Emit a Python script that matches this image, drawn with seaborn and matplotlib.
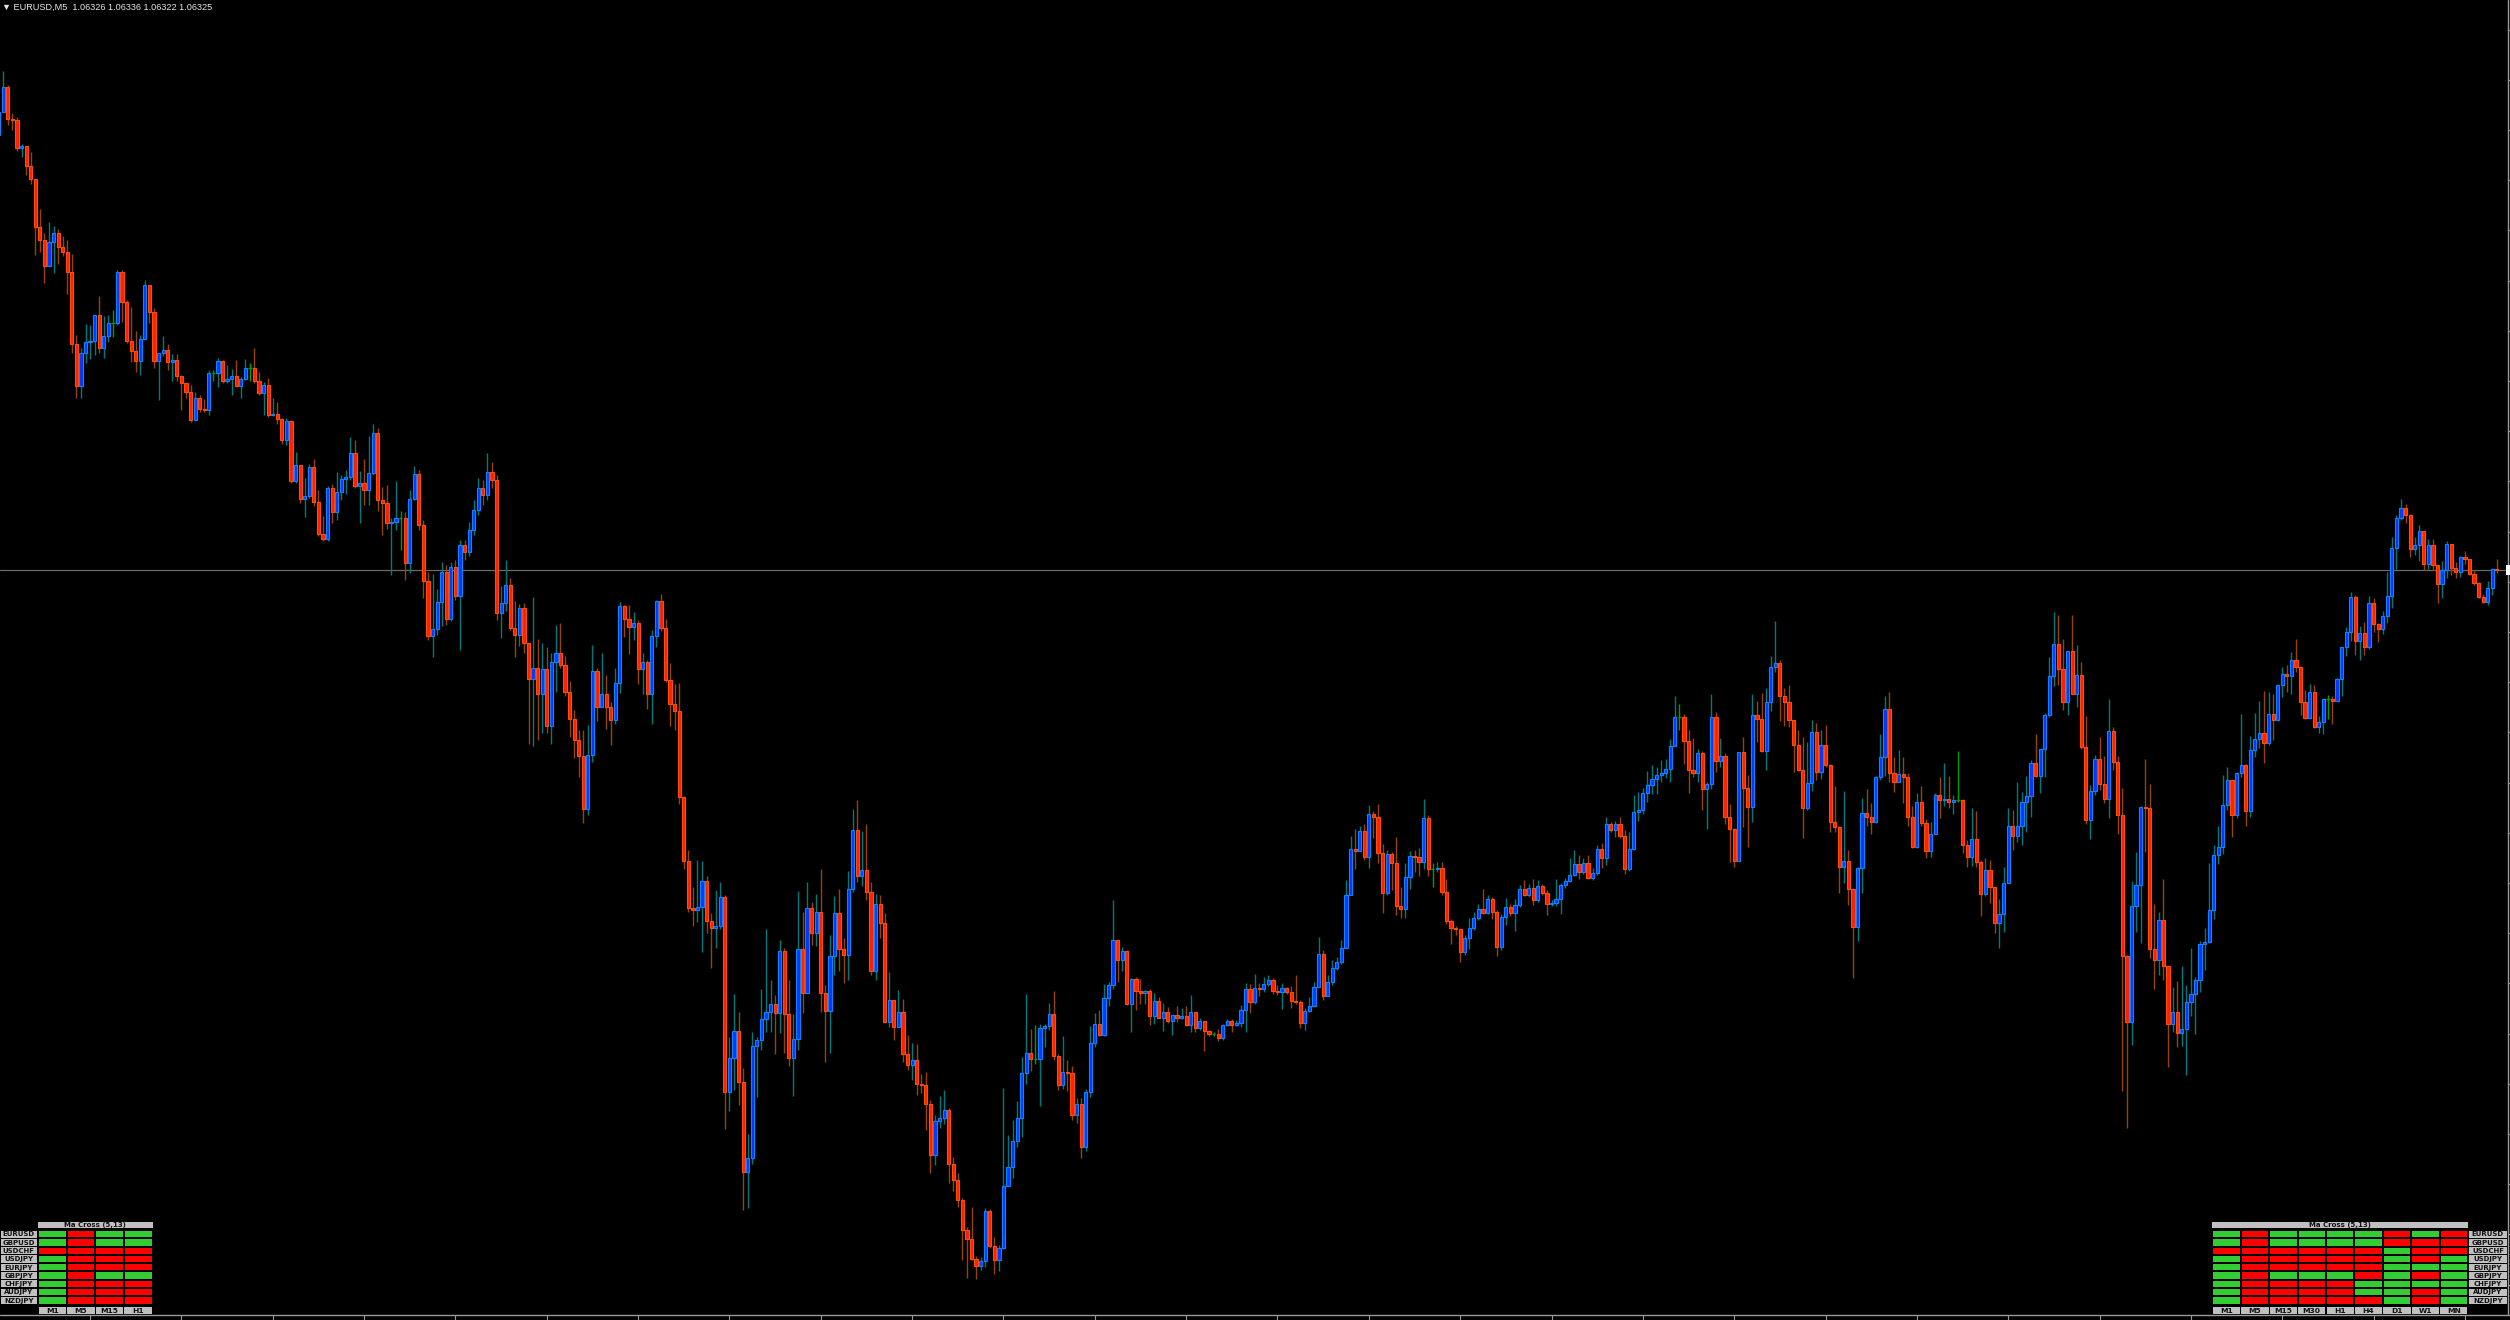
import numpy as np
import pandas as pd
import matplotlib
matplotlib.use("Agg")
import matplotlib.pyplot as plt
import seaborn as sns
from matplotlib.patches import Rectangle
from matplotlib.colors import ListedColormap

# ---------------- data (EURUSD M5, prices = BASE + points / 100000) ----------------
BASE = 1.05
first_open_pts = 1760

close_pts = [
1783,1808,1776,1775,1747,1749,1729,1716,1668,1655,
1629,1653,1662,1648,1643,1623,1551,1509,1542,1553,
1554,1580,1547,1559,1572,1572,1623,1593,1554,1544,
1534,1556,1610,1583,1534,1542,1545,1533,1535,1519,
1512,1503,1475,1497,1486,1485,1522,1522,1534,1514,
1516,1519,1509,1516,1527,1527,1514,1502,1510,1480,
1481,1476,1455,1474,1414,1430,1396,1399,1428,1393,
1361,1356,1407,1383,1403,1416,1418,1442,1409,1412,
1405,1422,1462,1395,1392,1372,1373,1377,1377,1332,
1396,1421,1370,1314,1259,1266,1293,1323,1276,1328,
1299,1350,1343,1365,1385,1407,1400,1423,1415,1282,
1292,1310,1267,1260,1287,1252,1216,1227,1201,1226,
1169,1233,1242,1230,1203,1176,1155,1139,1086,1140,
1224,1188,1201,1188,1175,1212,1289,1276,1268,1272,
1226,1233,1201,1259,1294,1267,1215,1191,1184,1098,
1034,987,985,988,1014,974,967,969,998,803,
837,864,813,723,737,849,855,876,883,891,
882,944,881,837,856,946,902,987,962,983,
902,884,939,982,946,940,1006,1065,1019,1025,
1003,924,991,972,873,895,868,883,841,830,
835,811,810,791,740,774,777,785,731,715,
695,665,656,636,629,634,684,649,635,647,
709,728,754,777,822,842,836,836,867,869,
881,839,810,823,822,780,791,748,803,852,
871,860,897,910,955,935,944,891,916,904,
902,904,879,894,877,883,874,880,877,879,
870,883,867,874,864,861,861,857,870,874,
870,872,885,906,893,907,906,911,915,904,
903,907,903,894,893,872,884,889,908,941,
899,913,927,933,947,1000,1046,1044,1064,1038,
1081,1078,1042,1002,1041,1032,989,986,1018,1039,
1038,1033,1077,1026,1026,1027,1003,974,967,966,
943,957,967,977,986,982,996,983,948,978,
988,982,990,1006,1000,1007,995,1009,1002,991,
992,996,1010,1014,1020,1031,1023,1032,1017,1022,
1046,1037,1071,1065,1071,1059,1026,1046,1083,1085,
1102,1110,1116,1120,1122,1126,1149,1178,1178,1154,
1125,1122,1142,1106,1111,1178,1134,1139,1078,1066,
1034,1143,1107,1088,1180,1176,1144,1193,1228,1232,
1199,1193,1175,1150,1125,1087,1112,1163,1123,1150,
1130,1073,1068,1028,1034,1006,968,1027,1082,1078,
1073,1118,1138,1186,1122,1113,1121,1118,1078,1048,
1093,1072,1044,1061,1100,1095,1096,1093,1095,1095,
1050,1038,1056,1033,1001,1025,1008,972,981,1012,
1069,1059,1069,1093,1099,1132,1119,1146,1180,1219,
1251,1226,1193,1244,1201,1220,1148,1075,1104,1136,
1111,1096,1164,1133,1080,939,873,989,1010,1088,
1087,946,935,975,929,871,883,862,866,893,
901,915,951,953,985,1040,1048,1090,1115,1080,
1122,1130,1084,1145,1156,1162,1152,1181,1175,1210,
1221,1219,1235,1228,1193,1177,1203,1168,1173,1196,
1196,1194,1216,1248,1263,1298,1254,1262,1248,1292,
1271,1266,1279,1299,1347,1377,1387,1380,1346,1350,
1364,1331,1350,1330,1311,1325,1351,1327,1323,1338,
1336,1321,1312,1298,1293,1307,1326,1325]

high_pts = [
1788,1824,1810,1782,1778,1751,1749,1743,1716,1686,
1662,1673,1669,1666,1659,1655,1641,1560,1547,1571,
1570,1580,1599,1579,1580,1585,1625,1625,1595,1588,
1564,1560,1615,1610,1587,1542,1559,1551,1541,1541,
1520,1512,1510,1503,1500,1496,1525,1525,1537,1535,
1530,1526,1535,1518,1536,1532,1547,1523,1513,1517,
1497,1493,1477,1477,1475,1443,1430,1417,1431,1436,
1405,1379,1409,1411,1423,1420,1425,1458,1455,1424,
1436,1459,1471,1467,1408,1410,1377,1414,1384,1383,
1405,1429,1425,1375,1323,1321,1306,1333,1330,1333,
1335,1355,1355,1373,1395,1417,1415,1442,1433,1420,
1309,1335,1317,1294,1291,1292,1252,1298,1256,1252,
1248,1242,1270,1272,1239,1214,1185,1165,1165,1170,
1250,1227,1242,1220,1193,1227,1293,1290,1290,1283,
1275,1242,1235,1265,1295,1301,1276,1232,1211,1212,
1099,1045,1008,1035,1034,1019,982,1005,1013,1000,
858,901,883,827,761,863,858,906,966,915,
900,955,947,915,881,1004,983,1013,993,1001,
1026,910,960,999,1006,957,1024,1086,1095,1064,
1071,1013,1001,1000,982,923,895,905,896,860,
852,851,821,823,795,780,799,805,787,738,
722,697,668,688,639,638,687,686,658,650,
807,760,775,794,838,901,866,870,871,871,
892,904,841,859,835,829,797,797,806,869,
882,885,911,913,995,956,948,945,917,918,
916,905,906,902,898,892,888,880,889,887,
889,900,883,877,867,865,863,866,871,876,
876,875,890,912,911,921,912,918,920,917,
910,912,908,909,920,895,887,898,913,958,
945,920,935,938,955,1015,1059,1066,1069,1071,
1090,1084,1091,1051,1045,1043,1058,1008,1032,1044,
1045,1047,1096,1080,1032,1033,1033,1016,976,969,
966,960,977,983,991,1006,1000,998,985,981,
997,991,996,1010,1015,1011,1016,1015,1011,1005,
995,1016,1012,1017,1037,1045,1040,1037,1040,1027,
1050,1052,1078,1073,1074,1078,1065,1063,1100,1103,
1107,1124,1130,1128,1135,1136,1156,1199,1191,1181,
1165,1157,1146,1144,1113,1201,1183,1157,1142,1091,
1067,1143,1158,1120,1201,1194,1202,1207,1239,1274,
1235,1207,1210,1175,1165,1158,1153,1175,1172,1165,
1170,1131,1109,1069,1104,1045,1006,1028,1097,1106,
1092,1119,1161,1199,1203,1138,1145,1138,1122,1089,
1102,1109,1076,1073,1102,1118,1132,1119,1100,1144,
1096,1055,1087,1084,1035,1037,1035,1008,996,1028,
1087,1085,1113,1103,1119,1135,1161,1146,1182,1238,
1283,1280,1256,1244,1280,1250,1233,1179,1110,1140,
1158,1139,1196,1168,1139,1107,940,1014,1043,1089,
1136,1111,991,983,1016,929,908,914,929,910,
947,918,954,967,1032,1050,1069,1120,1128,1115,
1123,1181,1131,1159,1182,1194,1204,1203,1201,1211,
1228,1230,1243,1256,1228,1205,1211,1210,1179,1196,
1200,1199,1217,1248,1268,1303,1300,1269,1273,1299,
1297,1272,1284,1323,1358,1380,1396,1391,1381,1358,
1370,1363,1356,1356,1327,1334,1354,1351,1333,1339,
1344,1336,1325,1313,1301,1314,1327,1336]

low_pts = [
1757,1783,1770,1765,1744,1738,1720,1711,1640,1643,
1612,1629,1622,1631,1639,1601,1542,1497,1497,1532,
1536,1540,1542,1537,1553,1558,1570,1573,1552,1533,
1523,1520,1556,1572,1527,1495,1539,1525,1514,1514,
1485,1497,1473,1475,1483,1483,1480,1514,1508,1512,
1512,1500,1509,1497,1515,1514,1512,1500,1480,1478,
1479,1471,1451,1450,1412,1412,1392,1378,1397,1389,
1359,1354,1354,1372,1375,1395,1401,1415,1407,1372,
1390,1390,1420,1384,1360,1366,1320,1365,1345,1315,
1322,1395,1365,1297,1255,1238,1260,1269,1270,1274,
1295,1245,1335,1339,1360,1380,1390,1395,1407,1275,
1257,1284,1265,1238,1249,1242,1151,1149,1155,1162,
1162,1151,1203,1227,1199,1158,1137,1118,1072,1080,
1133,1174,1189,1166,1150,1171,1202,1258,1241,1255,
1211,1201,1186,1171,1248,1264,1213,1169,1165,1091,
1026,983,969,973,943,962,927,947,966,766,
784,805,790,685,687,731,798,845,863,863,
841,862,842,829,799,845,882,902,950,949,
883,833,842,920,924,912,915,1003,1013,1009,
995,920,915,957,873,868,855,868,833,825,
815,800,802,765,722,730,767,771,712,704,
688,635,617,635,616,625,628,647,621,624,
646,709,717,748,758,811,824,831,789,848,
865,835,805,806,804,775,772,737,744,798,
848,859,859,889,906,913,924,890,863,885,
891,891,870,871,877,864,872,860,873,876,
869,863,863,865,844,859,859,854,855,869,
863,869,868,863,882,891,899,903,909,901,
900,886,901,887,891,867,865,883,888,908,
895,899,910,925,931,947,1000,1026,1044,1035,
1027,1057,1032,982,1000,1005,980,977,977,1006,
1023,1019,1026,1019,1008,1023,1000,971,951,960,
933,940,946,965,975,981,981,976,939,945,
970,979,964,988,999,998,990,993,1000,980,
989,989,981,1007,1013,1019,1016,1021,1016,1015,
1020,1027,1030,1063,1058,1057,1021,1024,1045,1074,
1081,1093,1101,1101,1113,1117,1113,1149,1165,1131,
1102,1118,1113,1085,1066,1106,1123,1128,1071,1033,
1028,1034,1068,1048,1073,1153,1143,1125,1184,1223,
1174,1169,1168,1123,1124,1057,1085,1104,1115,1116,
1128,1063,1063,1002,1012,990,917,954,1002,1069,
1061,1072,1115,1119,1113,1103,1113,1092,1069,1047,
1047,1069,1037,1038,1062,1077,1089,1087,1081,1093,
1042,1028,1029,1028,979,999,992,962,947,963,
1013,1045,1053,1050,1063,1078,1118,1102,1118,1178,
1209,1210,1185,1180,1201,1188,1146,1071,1056,1100,
1105,1092,1077,1125,1061,804,767,850,963,952,
1043,937,906,920,915,828,863,848,849,820,
879,861,903,925,952,976,1031,1041,1085,1058,
1077,1118,1069,1078,1138,1147,1132,1150,1155,1174,
1198,1203,1201,1223,1180,1176,1177,1167,1162,1161,
1176,1171,1194,1199,1239,1254,1240,1235,1240,1246,
1263,1253,1261,1272,1287,1326,1375,1372,1338,1340,
1334,1325,1326,1325,1292,1297,1317,1320,1317,1318,
1331,1320,1310,1297,1292,1290,1300,1322]

title_text = "\u25bc EURUSD,M5  1.06326 1.06336 1.06322 1.06325"

panel_title = "Ma Cross (5,13)"
symbols = ["EURUSD", "GBPUSD", "USDCHF", "USDJPY", "EURJPY",
           "GBPJPY", "CHFJPY", "AUDJPY", "NZDJPY"]
tf_left = ["M1", "M5", "M15", "H1"]
tf_right = ["M1", "M5", "M15", "M30", "H1", "H4", "D1", "W1", "MN"]
# 1 = bullish cross (green), 0 = bearish (red)
signals_left = [
    [1, 0, 1, 1],
    [1, 0, 1, 1],
    [0, 0, 0, 0],
    [1, 0, 0, 0],
    [1, 0, 0, 0],
    [1, 0, 1, 1],
    [1, 0, 0, 0],
    [1, 0, 0, 0],
    [1, 0, 0, 0],
]
signals_right = [
    [1, 0, 1, 1, 1, 1, 0, 1, 0],
    [1, 0, 1, 1, 1, 1, 0, 0, 0],
    [0, 0, 0, 0, 0, 0, 1, 0, 0],
    [1, 0, 0, 0, 0, 0, 1, 0, 1],
    [1, 0, 0, 0, 0, 0, 1, 1, 1],
    [1, 0, 1, 1, 1, 0, 1, 0, 1],
    [1, 0, 0, 0, 0, 1, 1, 1, 1],
    [1, 0, 0, 0, 0, 1, 1, 0, 1],
    [1, 0, 0, 0, 0, 0, 1, 0, 1],
]

# ---------------- build OHLC table ----------------
n = min(len(close_pts), len(high_pts), len(low_pts))
close = BASE + np.array(close_pts[:n]) / 1e5
open_ = np.concatenate([[BASE + first_open_pts / 1e5], close[:-1]])
high = np.maximum(BASE + np.array(high_pts[:n]) / 1e5, np.maximum(open_, close))
low = np.minimum(BASE + np.array(low_pts[:n]) / 1e5, np.minimum(open_, close))
df = pd.DataFrame({"bar": np.arange(n), "open": open_, "high": high,
                   "low": low, "close": close})
up = df.close > df.open + 1e-9
dn = df.close < df.open - 1e-9
dj = ~(up | dn)

# ---------------- style ----------------
W, H = 2510, 1320
sns.set_theme(style="dark")
plt.rcParams.update({
    "figure.facecolor": "black", "axes.facecolor": "black",
    "savefig.facecolor": "black",
})
plt.rcParams["font.family"] = ["DejaVu Sans"]

BULL_FACE, BULL_EDGE, BULL_WICK = "#0038ff", "#0a84ff", "#007a7e"
BEAR_FACE, BEAR_EDGE, BEAR_WICK = "#ff2000", "#ff5000", "#964600"
DOJI = "#00a000"

fig = plt.figure(figsize=(W / 100, H / 100), dpi=100)
ax = fig.add_axes([0, 0, 1, 1])
ax.axis("off")
ax.set_xlim(0.278, 549.87)
ax.set_ylim(1.05575, 1.06895)

# bid line
ax.axhline(df.close.iloc[-1], color="#6a6a6a", lw=0.9, zorder=1)

# wicks
for mask, col in ((up, BULL_WICK), (dn, BEAR_WICK), (dj, DOJI)):
    sub = df[mask]
    ax.vlines(sub.bar, sub.low, sub.high, colors=col, lw=1.0, zorder=2)

# bodies
bw = 0.70
for mask, fc, ec in ((up, BULL_FACE, BULL_EDGE), (dn, BEAR_FACE, BEAR_EDGE)):
    sub = df[mask]
    bottom = np.minimum(sub.open, sub.close)
    height = np.maximum((sub.close - sub.open).abs(), 0.6e-5)
    ax.bar(sub.bar, height, bottom=bottom, width=bw, color=fc,
           edgecolor=ec, linewidth=0.8, zorder=3)
sub = df[dj]
ax.hlines(sub.close, sub.bar - bw / 2, sub.bar + bw / 2, colors=DOJI, lw=1.0, zorder=3)

# time axis line + ticks every 20 bars
yl = 1 - 1315 / H
ax.plot([0, 1], [yl, yl], transform=ax.transAxes, color="#9a9a9a", lw=1.0, zorder=5)
tick_bars = np.arange(20, n, 20)
ax.vlines(tick_bars, 1 - 1319.5 / H, yl, transform=ax.get_xaxis_transform(),
          colors="#9a9a9a", lw=0.8, zorder=5)
# price axis line
xr = 2508 / W
ax.plot([xr, xr], [yl, 1], transform=ax.transAxes, color="#9a9a9a", lw=1.0, zorder=5)

# ---------------- overlay (pixel coordinates) for panels ----------------
ov = fig.add_axes([0, 0, 1, 1], zorder=5)
ov.set_xlim(0, W)
ov.set_ylim(H, 0)
ov.axis("off")
ov.patch.set_alpha(0)

for k in range(-12, 16):
    yy = 632 + 50.2 * k
    if 5 < yy < 1312:
        ov.plot([2508, 2511], [yy, yy], color="#9a9a9a", lw=0.8)
ov.add_patch(Rectangle((2505.5, 565), 5, 10, fc="white", ec="none"))


def grey_label(x0, y0, x1, y1, s, fs):
    r = Rectangle((x0, y0), x1 - x0, y1 - y0, fc="#c0c0c0", ec="none")
    ov.add_patch(r)
    ov.text((x0 + x1) / 2, (y0 + y1) / 2 + 0.3, s, ha="center", va="center",
            fontsize=fs, color="#101010", fontweight="bold")


ROW_TOP, ROW_H = 1230.0, 74.5 / 9
HDR = (1221.7, 1228.4)
BOT = (1306.5, 1314.0)


def panel(x0, x1, lab_x0, lab_x1, tfs, signals):
    ncol = len(tfs)
    cw = (x1 - x0) / ncol
    grey_label(x0, HDR[0], x1, HDR[1], panel_title, fs=5.0)
    for k, s in enumerate(symbols):
        grey_label(lab_x0, ROW_TOP + k * ROW_H + 0.6, lab_x1,
                   ROW_TOP + (k + 1) * ROW_H - 0.6, s, fs=5.0)
    for j, tf in enumerate(tfs):
        grey_label(x0 + j * cw + 0.6, BOT[0], x0 + (j + 1) * cw - 0.6, BOT[1], tf, fs=5.4)
    hax = fig.add_axes([x0 / W, 1 - (ROW_TOP + 9 * ROW_H) / H,
                        (x1 - x0) / W, 9 * ROW_H / H], zorder=6)
    sns.heatmap(np.array(signals), ax=hax, cmap=ListedColormap(["#ff0000", "#33cc33"]),
                vmin=0, vmax=1, cbar=False, linewidths=1.1, linecolor="black",
                xticklabels=False, yticklabels=False)
    hax.set_xlabel("")
    hax.set_ylabel("")


panel(38.0, 152.5, 0.5, 37.0, tf_left, signals_left)
panel(2212.3, 2468.0, 2469.3, 2506.5, tf_right, signals_right)

fig.text(2.0 / W, 1 - 7.0 / H, title_text, ha="left", va="center",
         fontsize=6.6, color="#e6e6e6", family=["Liberation Sans", "DejaVu Sans"])

fig.savefig("out.png", dpi=100, facecolor="black")
print(len(close_pts), len(high_pts), len(low_pts))
